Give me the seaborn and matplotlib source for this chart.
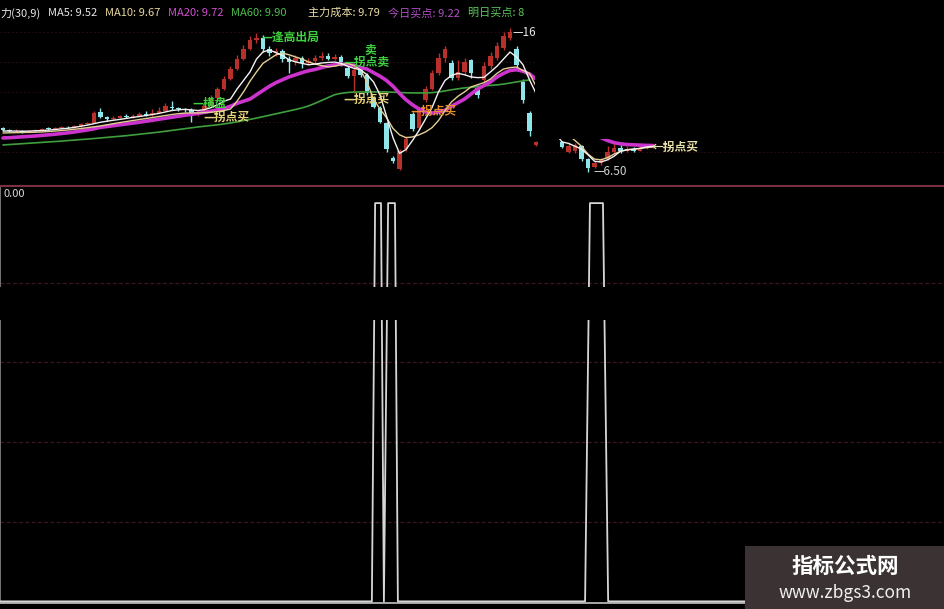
import numpy as np
import pandas as pd
import seaborn as sns
import matplotlib.pyplot as plt
from matplotlib.patches import Rectangle

sns.set_theme(style="dark", rc={"axes.facecolor": "black", "figure.facecolor": "black"})
plt.rcParams['font.family'] = ['Noto Sans CJK SC', 'DejaVu Sans']
plt.rcParams['axes.unicode_minus'] = False

# ---- K线数据 (读自图片) ----
opens = [9.55, 9.42, 9.35, 9.40, 9.30, 9.38, 9.45, 9.52, 9.50, 9.58,
         9.66, 9.62, 9.72, 9.85, 9.95, 10.70, 10.35, 10.20, 10.30, 10.40,
         10.35, 10.45, 10.55, 10.50, 10.65, 10.80, 11.05, 10.95, 10.90, 10.85,
         10.50, 10.65, 11.10, 11.70, 12.30, 13.00, 13.70, 14.40, 15.10, 15.70,
         15.90, 15.10, 14.80, 14.95, 14.40, 14.20, 14.50, 14.10, 14.25, 14.45,
         14.60, 14.40, 14.55, 13.80, 13.20, 13.75, 13.30, 11.70, 11.00, 9.90,
         7.50, 6.70, 8.10, 10.55, 9.60, 11.50, 12.30, 13.40, 14.50, 14.10,
         13.10, 13.50, 14.30, 12.40, 12.90, 13.90, 14.50, 15.20, 15.90, 15.10,
         12.80, 10.60, 8.40, 8.90, 9.20, 9.00, 8.60, 7.90, 8.00, 8.30,
         7.40, 6.85, 7.10, 7.40, 7.90, 8.20, 7.95, 8.10, 8.00, 8.15, 8.25]
closes = [9.42, 9.35, 9.40, 9.32, 9.38, 9.45, 9.52, 9.50, 9.58, 9.66,
          9.62, 9.72, 9.85, 9.92, 10.60, 10.35, 10.20, 10.30, 10.40, 10.35,
          10.45, 10.55, 10.50, 10.65, 10.80, 11.10, 10.95, 10.90, 10.85, 10.50,
          10.65, 11.10, 11.70, 12.30, 13.00, 13.70, 14.40, 15.10, 15.70, 15.90,
          15.10, 14.80, 14.95, 14.40, 14.20, 14.50, 14.10, 14.25, 14.45, 14.60,
          14.40, 14.55, 14.20, 13.20, 13.60, 13.30, 12.00, 11.05, 10.00, 8.10,
          7.25, 8.00, 8.80, 9.50, 10.90, 12.30, 13.40, 14.50, 15.10, 13.10,
          13.50, 14.20, 13.40, 11.85, 13.90, 14.60, 15.30, 16.00, 16.30, 14.00,
          11.50, 9.40, 8.60, 9.20, 9.00, 8.90, 8.25, 8.35, 8.40, 7.40,
          6.80, 7.10, 7.40, 7.90, 8.20, 7.95, 8.10, 8.00, 8.15, 8.25, 8.35]
highs = [9.62, 9.50, 9.48, 9.45, 9.45, 9.52, 9.60, 9.62, 9.66, 9.75,
         9.74, 9.80, 9.95, 10.02, 10.75, 10.95, 10.45, 10.40, 10.50, 10.55,
         10.55, 10.70, 10.75, 10.90, 11.05, 11.35, 11.45, 11.05, 11.00, 10.95,
         10.80, 11.20, 11.85, 12.45, 13.20, 13.90, 14.70, 15.40, 16.00, 16.20,
         16.10, 15.30, 15.20, 15.10, 14.60, 14.70, 14.60, 14.45, 14.70, 14.90,
         14.80, 14.75, 14.70, 13.90, 14.10, 13.85, 13.40, 11.80, 11.10, 10.00,
         7.60, 8.10, 9.00, 10.70, 11.10, 12.50, 13.60, 14.80, 15.30, 14.30,
         14.30, 14.50, 14.40, 12.60, 14.20, 14.90, 15.60, 16.30, 16.55, 15.30,
         13.00, 10.80, 8.70, 9.40, 9.35, 9.10, 8.70, 8.55, 8.50, 8.40,
         7.50, 7.25, 7.50, 8.30, 8.50, 8.40, 8.35, 8.25, 8.30, 8.40, 8.45]
lows = [9.38, 9.30, 9.30, 9.25, 9.27, 9.33, 9.40, 9.44, 9.46, 9.54,
        9.56, 9.58, 9.68, 9.80, 9.90, 10.25, 10.10, 10.12, 10.25, 10.28,
        10.30, 10.40, 10.42, 10.45, 10.60, 10.75, 10.85, 10.80, 10.70, 10.00,
        10.40, 10.60, 11.05, 11.60, 12.20, 12.90, 13.60, 14.30, 15.00, 15.50,
        14.90, 14.60, 14.60, 14.20, 13.40, 14.00, 13.80, 13.95, 14.15, 14.35,
        14.30, 14.30, 13.90, 13.05, 12.00, 13.15, 11.90, 10.95, 9.90, 7.90,
        7.10, 6.62, 8.00, 9.40, 9.50, 11.40, 12.20, 13.30, 14.20, 12.90,
        12.90, 13.30, 13.10, 11.70, 12.80, 13.70, 14.30, 15.00, 15.70, 13.80,
        11.30, 9.00, 8.30, 8.85, 8.90, 8.85, 8.15, 7.80, 7.85, 7.30,
        6.50, 6.75, 7.00, 7.35, 7.85, 7.85, 7.90, 7.90, 7.95, 8.10, 8.20]

ma5 = [9.37, 9.36, 9.36, 9.35, 9.36, 9.38, 9.40, 9.43, 9.47, 9.52,
       9.56, 9.62, 9.70, 9.78, 9.88, 9.98, 10.05, 10.12, 10.18, 10.25,
       10.32, 10.38, 10.45, 10.52, 10.60, 10.70, 10.80, 10.85, 10.88, 10.84,
       10.80, 10.86, 11.00, 11.20, 11.45, 11.60, 12.30, 12.90, 13.50, 14.40,
       14.90, 15.03, 14.85, 14.65, 14.35, 14.20, 14.10, 14.00, 14.05, 14.12,
       14.16, 14.19, 14.10, 13.90, 13.75, 13.65, 13.30, 12.80, 11.90, 10.40,
       8.90, 7.80, 8.07, 8.70, 9.40, 10.20, 11.00, 12.10, 12.90, 13.25,
       13.40, 13.30, 13.15, 13.10, 13.12, 13.50, 13.90, 14.40, 14.89, 14.55,
       14.00, 12.95, 12.00, 11.00, 10.00, 9.20, 8.60, 8.50, 8.30, 8.10,
       7.70, 7.25, 7.20, 7.35, 7.60, 7.95, 8.05, 8.10, 8.15, 8.25, 8.30]
ma10 = [9.23, 9.24, 9.25, 9.26, 9.27, 9.28, 9.30, 9.33, 9.36, 9.40,
        9.44, 9.49, 9.54, 9.60, 9.66, 9.72, 9.80, 9.88, 9.96, 10.03,
        10.10, 10.17, 10.24, 10.31, 10.38, 10.45, 10.52, 10.58, 10.62, 10.63,
        10.63, 10.65, 10.68, 10.72, 10.80, 10.90, 11.45, 12.10, 12.85, 13.50,
        14.10, 14.40, 14.70, 14.82, 14.70, 14.55, 14.40, 14.20, 14.05, 13.95,
        13.85, 13.90, 14.00, 14.10, 13.95, 13.63, 12.80, 11.60, 10.90, 10.30,
        9.55, 9.10, 8.90, 8.95, 9.10, 9.30, 9.60, 10.10, 10.80, 11.40,
        11.80, 12.10, 12.45, 12.60, 12.75, 13.00, 13.40, 13.70, 13.80, 13.84,
        13.60, 13.40, 12.50, 11.90, 11.30, 10.60, 9.60, 9.10, 8.70, 8.30,
        7.75, 7.40, 7.35, 7.50, 7.75, 7.95, 8.05, 8.10, 8.15, 8.20, 8.25]
ma20 = [8.88, 8.90, 8.93, 8.96, 8.99, 9.02, 9.06, 9.10, 9.14, 9.19,
        9.24, 9.30, 9.37, 9.44, 9.52, 9.62, 9.68, 9.74, 9.80, 9.86,
        9.92, 9.98, 10.05, 10.12, 10.19, 10.26, 10.33, 10.40, 10.47, 10.53,
        10.60, 10.67, 10.75, 10.85, 10.95, 11.10, 11.30, 11.45, 11.60, 11.90,
        12.20, 12.50, 12.75, 12.95, 13.15, 13.30, 13.45, 13.58, 13.67, 13.80,
        13.92, 14.00, 14.05, 14.00, 13.95, 13.80, 13.70, 13.45, 13.20, 12.90,
        12.50, 12.00, 11.55, 11.20, 10.90, 10.70, 10.62, 10.70, 10.82, 11.10,
        11.35, 11.60, 11.95, 12.30, 12.55, 12.80, 13.15, 13.40, 13.60, 13.65,
        13.55, 13.35, 13.00, 12.60, 12.20, 11.80, 11.40, 11.00, 10.50, 10.00,
        9.50, 9.10, 8.90, 8.70, 8.55, 8.47, 8.42, 8.40, 8.38, 8.36, 8.35]
ma60 = [8.39, 8.42, 8.45, 8.48, 8.51, 8.54, 8.57, 8.60, 8.63, 8.66,
        8.70, 8.73, 8.77, 8.80, 8.84, 8.88, 8.92, 8.96, 9.00, 9.04,
        9.09, 9.14, 9.19, 9.24, 9.29, 9.35, 9.41, 9.47, 9.53, 9.59,
        9.65, 9.70, 9.75, 9.80, 9.86, 9.93, 10.00, 10.10, 10.18, 10.27,
        10.37, 10.47, 10.57, 10.67, 10.77, 10.87, 10.98, 11.12, 11.30, 11.50,
        11.70, 11.90, 12.00, 12.06, 12.09, 12.10, 12.10, 12.10, 12.10, 12.10,
        12.08, 12.06, 12.04, 12.03, 12.03, 12.03, 12.05, 12.10, 12.17, 12.25,
        12.32, 12.38, 12.42, 12.47, 12.52, 12.56, 12.59, 12.65, 12.72, 12.80,
        12.87, 12.94] + [np.nan] * 19

# 副图信号
sig_x = [-0.5, 56.75, 57.25, 58.15, 58.6, 59.25, 60.3, 60.75, 89.55, 90.3, 92.3, 93.1, 144.9]
sig_v = [0, 0, 100, 100, 0, 100, 100, 0, 0, 100, 100, 0, 0]

header = [("力(30,9)", "#e6e6e6", 0), ("MA5: 9.52", "#e6e6e6", 48),
          ("MA10: 9.67", "#e8d9a0", 105), ("MA20: 9.72", "#d24fd2", 168),
          ("MA60: 9.90", "#4cbf4c", 231), ("主力成本: 9.79", "#e8dca8", 308),
          ("今日买点: 9.22", "#b44fc8", 388), ("明日买点: 8", "#5cc85c", 468)]

df = pd.DataFrame({"i": np.arange(len(closes)), "open": opens, "close": closes,
                   "high": highs, "low": lows, "ma5": ma5, "ma10": ma10,
                   "ma20": ma20, "ma60": ma60})

fig = plt.figure(figsize=(9.45, 6.09), dpi=100)
ax = fig.add_axes([0, 0.6946, 1, 0.3054])
ax2 = fig.add_axes([0, 0.0099, 1, 0.6847])
XL = (-0.46, 144.92)

# ---- 主图 ----
for yv in [7.9, 10.0, 12.1, 14.2, 16.3]:
    ax.axhline(yv, color="#260c10", lw=0.7, ls=(0, (2, 2)), zorder=1)

up = df["close"] >= df["open"]
cols = np.where(up, "#b8302a", "#8fe6ea")
ax.vlines(df["i"], df["low"], df["high"], colors=cols, lw=1.0, zorder=2)
body = (df["close"] - df["open"]).abs().clip(lower=0.05)
ax.bar(df["i"], body, bottom=df[["open", "close"]].min(axis=1), width=0.65,
       color=cols, linewidth=0, zorder=2)

sns.lineplot(data=df, x="i", y="ma60", color="#3f9f3f", lw=1.2, ax=ax, zorder=3)
sns.lineplot(data=df, x="i", y="ma20", color="#cc33cc", lw=2.6, ax=ax, zorder=3)
sns.lineplot(data=df, x="i", y="ma10", color="#e3cf95", lw=1.0, ax=ax, zorder=4)
sns.lineplot(data=df, x="i", y="ma5", color="#f2f2f2", lw=1.0, ax=ax, zorder=4)

lab = dict(fontsize=8.5, va="center", ha="left", zorder=6, fontweight="bold")
ax.text(39.8, 15.94, "—逢高出局", color="#3fd03f", **lab)
ax.text(29.1, 11.26, "—横盘", color="#3fd03f", **lab)
ax.text(30.8, 10.35, "—拐点买", color="#e8d27a", **lab)
ax.text(52.3, 14.19, "—拐点卖", color="#3fd03f", **lab)
ax.text(55.6, 15.03, "卖", color="#3fd03f", **lab)
ax.text(52.3, 11.54, "—拐点买", color="#e8d27a", **lab)
ax.text(62.6, 10.70, "—拐点买", color="#e8902e", **lab)
ax.text(78.3, 16.25, "—16", color="#e6e6e6", fontsize=8.5, va="center", zorder=6)
ax.text(90.8, 6.50, "—6.50", color="#d0d0d0", fontsize=8.5, va="center", zorder=6)
ax.text(99.8, 8.25, "←拐点买", color="#e8e0a8", **lab)

ax.add_patch(Rectangle((81.85, 8.81), 70, 15, facecolor="black", edgecolor="none", zorder=10))
ax.set_xlim(*XL)
ax.set_ylim(5.52, 18.53)

# ---- 副图 ----
for v in [20, 40, 60, 80]:
    ax2.axhline(v, color="#3e1519", lw=0.9, ls=(0, (3, 2)), zorder=1)
sns.lineplot(x=sig_x, y=sig_v, estimator=None, color="#d6d6d6", lw=1.3, ax=ax2, zorder=3)
ax2.axhspan(70.6, 78.9, color="black", lw=0, zorder=4)
ax2.set_xlim(*XL)
ax2.set_ylim(-0.4, 104.3)

for a in (ax, ax2):
    a.set(xlabel="", ylabel="", xticks=[], yticks=[])
    a.set_facecolor("black")
    for s in a.spines.values():
        s.set_visible(False)
ax2.spines["top"].set_visible(True)
ax2.spines["top"].set_color("#7a2f45")
ax2.spines["top"].set_linewidth(1.5)
ax2.spines["bottom"].set_visible(True)
ax2.spines["bottom"].set_color("#a8a8a8")
ax2.spines["bottom"].set_linewidth(1.4)
ax2.spines["left"].set_visible(True)
ax2.spines["left"].set_color("#8a8a8a")
ax2.spines["left"].set_linewidth(1.2)

# ---- 标题行与文字 ----
for txt, c, px in header:
    fig.text(px / 945, 1 - 13 / 609, txt, color=c, fontsize=8, va="center", ha="left")
fig.text(4 / 945, 1 - 194 / 609, "0.00", color="#d8d8d8", fontsize=8, va="center")

fig.patches.append(Rectangle((745 / 945, 0), 200 / 945, 63 / 609, transform=fig.transFigure,
                             facecolor="#3b3333", edgecolor="none", zorder=5))
fig.text(845 / 945, 1 - 566 / 609, "指标公式网", color="white", fontsize=15.5,
         fontweight="bold", ha="center", va="center", zorder=6)
fig.text(845 / 945, 1 - 593 / 609, "www.zbgs3.com", color="#f0f0f0", fontsize=12.5,
         ha="center", va="center", zorder=6)

fig.savefig("out.png", dpi=100, facecolor="black")
